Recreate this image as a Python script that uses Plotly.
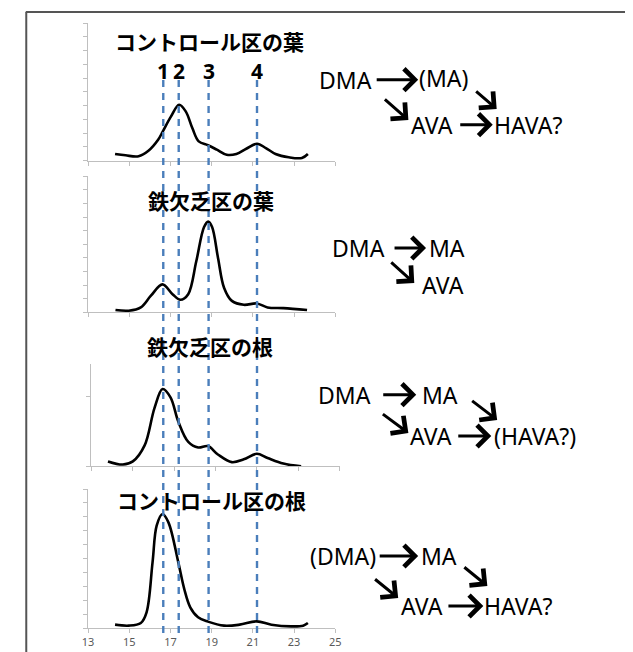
import plotly.graph_objects as go

W, H = 633, 652

# ---------------- data ----------------
x_ticks = [13, 15, 17, 19, 21, 23, 25]
peak_positions = [16.65, 17.4, 18.85, 21.2]
peak_labels = ["1", "2", "3", "4"]
panel_titles = ["コントロール区の葉", "鉄欠乏区の葉", "鉄欠乏区の根", "コントロール区の根"]

leaf_ctrl_x = [14.31, 14.82, 15.45, 15.93, 16.4, 16.63, 17.02, 17.42, 17.74, 18.06, 18.37,
               18.82, 19.25, 19.73, 20.2, 20.68, 21.2, 21.63, 22.1, 22.74, 23.38, 23.67]
leaf_ctrl_y = [0.49, 0.39, 0.32, 0.72, 1.52, 2.13, 3.2, 4.06, 3.58, 2.37, 1.4,
               1.12, 0.8, 0.43, 0.49, 0.87, 1.23, 0.92, 0.49, 0.25, 0.2, 0.49]

leaf_fe_x = [14.33, 14.98, 15.56, 16.04, 16.61, 17.1, 17.48, 17.86, 18.25, 18.63, 18.83,
             19.02, 19.31, 19.6, 19.98, 20.56, 21.19, 21.71, 22.48, 23.63]
leaf_fe_y = [0.17, 0.12, 0.36, 1.2, 2.05, 1.33, 0.92, 1.33, 3.73, 6.27, 6.67,
             6.27, 3.98, 1.81, 0.84, 0.55, 0.65, 0.36, 0.31, 0.17]

root_fe_x = [13.81, 14.53, 15.01, 15.58, 16.06, 16.45, 16.83, 17.21, 17.69, 18.17, 18.64,
             19.12, 19.79, 20.37, 21.0, 21.52, 22.28, 23.14]
root_fe_y = [0.07, 0.025, 0.07, 0.3, 0.84, 1.11, 0.99, 0.64, 0.35, 0.27, 0.29,
             0.17, 0.06, 0.1, 0.18, 0.12, 0.04, 0.0]

root_ctrl_x = [14.31, 14.98, 15.56, 15.84, 16.13, 16.33, 16.61, 16.9, 17.38, 17.67, 17.96,
               18.34, 18.82, 19.6, 20.36, 21.19, 21.9, 22.86, 23.44, 23.67]
root_ctrl_y = [0.24, 0.17, 0.36, 1.13, 4.72, 7.36, 8.2, 7.6, 4.72, 2.8, 1.49,
               0.77, 0.46, 0.17, 0.24, 0.48, 0.24, 0.12, 0.17, 0.36]

y_ranges = [[0, 10], [0, 10], [0, 1.47], [0, 10]]

# ---------------- layout helpers ----------------
def px(x):
    return x / W

def py(y):
    return 1 - y / H

curves = [(leaf_ctrl_x, leaf_ctrl_y), (leaf_fe_x, leaf_fe_y),
          (root_fe_x, root_fe_y), (root_ctrl_x, root_ctrl_y)]

# pixel geometry of each panel: (x_left, x_right, y_bottom, y_top)
panel_px = [(75.5, 327.5, 152.7, 15.0),
            (75.5, 327.5, 304.3, 168.3),
            (78.7, 331.9, 458.3, 356.0),
            (75.5, 327.5, 620.0, 481.0)]

fig = go.Figure()
axis_color = "#bfbfbf"

for i, ((cx, cy), (xl, xr, yb, yt)) in enumerate(zip(curves, panel_px)):
    n = i + 1
    xa = "x" if n == 1 else f"x{n}"
    ya = "y" if n == 1 else f"y{n}"
    fig.add_trace(go.Scatter(
        x=cx, y=cy, xaxis=xa, yaxis=ya, mode="lines",
        line=dict(color="black", width=2.6, shape="spline", smoothing=1.0),
        hoverinfo="skip", showlegend=False))
    xkey = "xaxis" if n == 1 else f"xaxis{n}"
    ykey = "yaxis" if n == 1 else f"yaxis{n}"
    fig.layout[xkey] = dict(
        domain=[px(xl), px(xr)], range=[x_ticks[0], x_ticks[-1]], anchor=ya,
        tickmode="array", tickvals=x_ticks,
        ticktext=[str(t) for t in x_ticks] if n == 4 else [""] * len(x_ticks),
        showline=True, linecolor=axis_color, linewidth=1.2,
        ticks="outside", ticklen=4, tickcolor=axis_color, tickwidth=1,
        showgrid=False, zeroline=False,
        tickfont=dict(family="Noto Sans", size=11, color="#595959"))
    yr = y_ranges[i]
    fig.layout[ykey] = dict(
        domain=[py(yb), py(yt)], range=yr, anchor=xa,
        tickmode="linear", tick0=0, dtick=1, showticklabels=False,
        showline=True, linecolor=axis_color, linewidth=1.2,
        ticks="outside", ticklen=4, tickcolor=axis_color, tickwidth=1,
        showgrid=False, zeroline=False)

shapes = []
# dashed reference lines
for p in peak_positions:
    shapes.append(dict(type="line", xref="x4", yref="paper", x0=p, x1=p,
                       y0=py(625), y1=py(72),
                       line=dict(color="#4a7ebb", width=2.4, dash="7px,6px")))
# frame
frame = dict(color="#555555", width=2)
shapes.append(dict(type="line", xref="paper", yref="paper", x0=px(12), x1=px(632),
                   y0=py(4), y1=py(4), line=frame))
shapes.append(dict(type="line", xref="paper", yref="paper", x0=px(12.5), x1=px(12.5),
                   y0=py(4), y1=py(660), line=frame))
shapes.append(dict(type="line", xref="paper", yref="paper", x0=px(631.5), x1=px(631.5),
                   y0=py(4), y1=py(660), line=frame))

annotations = []
# panel titles
title_pos = [(199, 33), (201, 191.7), (200, 338.3), (201, 491.7)]
for t, (tx, ty) in zip(panel_titles, title_pos):
    annotations.append(dict(text=f"<b>{t}</b>", xref="paper", yref="paper",
                            x=px(tx), y=py(ty), xanchor="center", yanchor="middle",
                            showarrow=False,
                            font=dict(family="Noto Sans CJK JP", size=21, color="black")))
# peak numbers
for p, lab in zip(peak_positions, peak_labels):
    annotations.append(dict(text=f"<b>{lab}</b>", xref="x4", yref="paper",
                            x=p, y=py(63), xanchor="center", yanchor="middle",
                            showarrow=False,
                            font=dict(family="Noto Sans", size=21, color="black")))

# pathway texts: (text, center_x, center_y)
path_texts = [
    ("DMA", 338, 71.7), ("(MA)", 438, 70.5), ("AVA", 426, 116.7), ("HAVA?", 524, 116.7),
    ("DMA", 351, 240), ("MA", 441.5, 240), ("AVA", 437, 276.7),
    ("DMA", 337, 386.7), ("MA", 434.5, 386.7), ("AVA", 425.5, 428.3), ("(HAVA?)", 531, 428.3),
    ("(DMA)", 335, 548.3), ("MA", 433, 548.3), ("AVA", 416, 598), ("HAVA?", 513.5, 598),
]
for t, tx, ty in path_texts:
    annotations.append(dict(text=t, xref="paper", yref="paper", x=px(tx), y=py(ty),
                            xanchor="center", yanchor="middle", showarrow=False,
                            font=dict(family="Noto Sans", size=23, color="black")))

# arrows: (tail_x, tail_y, head_x, head_y) in pixels
arrows = [
    (369, 71.7, 412, 71.7), (377, 90, 402, 112), (470, 82, 492, 101), (454, 116.7, 488, 116.7),
    (387, 240, 420, 240), (383.5, 253, 408, 275),
    (375.5, 386.7, 410, 386.7), (466, 391.7, 492.5, 412), (375, 405, 402, 425), (452, 428, 486.5, 428),
    (372, 548, 412, 548), (458, 558, 482.5, 578), (367, 570, 391.6, 590), (442, 598, 478.4, 598),
]
for x0, y0, x1, y1 in arrows:
    annotations.append(dict(text="", xref="paper", yref="paper", x=px(x1), y=py(y1),
                            ax=x0 - x1, ay=y0 - y1, axref="pixel", ayref="pixel",
                            showarrow=True, arrowhead=4, arrowsize=1.4, arrowwidth=3.0,
                            arrowcolor="black", standoff=0, startstandoff=0))

fig.update_layout(width=W, height=H, margin=dict(l=0, r=0, t=0, b=0),
                  paper_bgcolor="white", plot_bgcolor="white",
                  shapes=shapes, annotations=annotations, showlegend=False)

fig.write_html("out.html")
